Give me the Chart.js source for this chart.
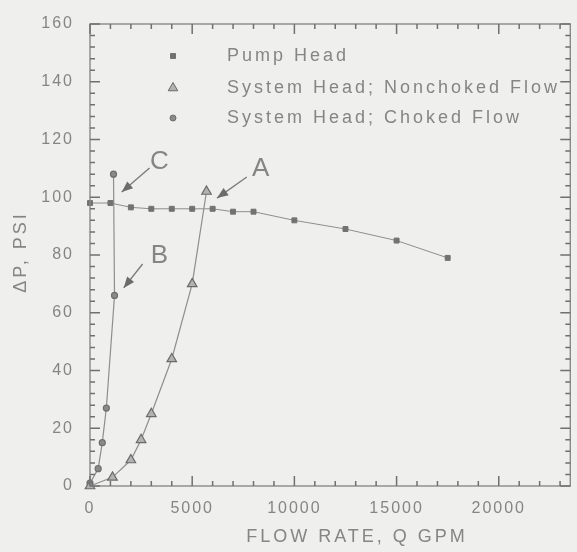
<!DOCTYPE html>
<html><head><meta charset="utf-8">
<script src="https://cdn.jsdelivr.net/npm/chart.js@4.4.0/dist/chart.umd.min.js"></script>
<style>html,body{margin:0;padding:0;background:#efefed;}#wrap{width:577px;height:552px;position:relative;}</style>
</head><body><div id="wrap"><canvas id="c"></canvas></div>
<script>
// ---- data ----
const pumpFlow = [0,1000,2000,3000,4000,5000,6000,7000,8000,10000,12500,15000,17500];
const pumpHead = [98,98,96.5,96,96,96,96,95,95,92,89,85,79];
const nonchokedFlow = [0,1100,2000,2500,3000,4000,5000,5700];
const nonchokedHead = [0,3,9,16,25,44,70,102];
const chokedFlow = [0,400,600,800,1200,1150];
const chokedHead = [1,6,15,27,66,108];
const xTicks = [0,5000,10000,15000,20000];
const yTicks = [0,20,40,60,80,100,120,140,160];
const seriesNames = ['Pump Head','System Head; Nonchoked Flow','System Head; Choked Flow'];
const xTitle = 'FLOW RATE, Q GPM';
const yTitle = '\u0394P, PSI';
// annotations (data units)
const noteText = ['A','B','C'];
const noteX = [8350,3400,3400];
const noteY = [109.8,79.7,112.2];
const arrowFromX = [7671,2573,2913];
const arrowFromY = [107,76.9,110.1];
const arrowToX = [6215,1650,1554];
const arrowToY = [99.7,68.6,101.8];

const TXT = '#858585', LINE = '#8e8e8e', MARK = '#727272';
const FONT = '"Liberation Sans", Arial, sans-serif';
const toPts = (xs, ys) => xs.map((x,i)=>({x, y: ys[i]}));

function drawFrame(chart){
  const ctx = chart.ctx, a = chart.chartArea, xs = chart.scales.x, ys = chart.scales.y;
  ctx.save();
  ctx.setLineDash([]);
  ctx.strokeStyle = '#8a8a8a'; ctx.lineWidth = 1.4;
  ctx.strokeRect(a.left, a.top, a.right-a.left, a.bottom-a.top);
  ctx.lineWidth = 1.5;
  ctx.strokeStyle = '#707070';
  for (let i = 0; i <= 23; i++) {
    const p = xs.getPixelForValue(i * 1000), L = (i % 5 === 0) ? 10 : 5;
    ctx.beginPath();
    ctx.moveTo(p, a.bottom); ctx.lineTo(p, a.bottom - L);
    ctx.moveTo(p, a.top); ctx.lineTo(p, a.top + L);
    ctx.stroke();
  }
  for (let i = 0; i <= 40; i++) {
    const p = ys.getPixelForValue(i * 4), L = (i % 5 === 0) ? 10 : 5;
    ctx.beginPath();
    ctx.moveTo(a.left, p); ctx.lineTo(a.left + L, p);
    ctx.moveTo(a.right, p); ctx.lineTo(a.right - L, p);
    ctx.stroke();
  }
  ctx.restore();
}

const stylePlugin = {
  id:'style',
  beforeLayout(chart){ chart.ctx.letterSpacing='2px'; },
  beforeDraw(chart){
    const ctx = chart.ctx;
    ctx.save();
    ctx.fillStyle='#efefed'; ctx.fillRect(0,0,chart.width,chart.height);
    ctx.restore();
    ctx.letterSpacing='2px';
  },
  afterDraw(chart){
    const ctx = chart.ctx, xs = chart.scales.x, ys = chart.scales.y;
    drawFrame(chart);
    ctx.save();
    ctx.fillStyle = TXT; ctx.strokeStyle = TXT;
    // axis titles
    ctx.letterSpacing = '3px';
    ctx.font = '18px ' + FONT;
    ctx.textAlign = 'center'; ctx.textBaseline = 'middle';
    ctx.fillText(xTitle, 357, 537);
    ctx.save(); ctx.translate(21, 252); ctx.rotate(-Math.PI/2);
    ctx.fillText(yTitle, 0, 0); ctx.restore();
    // legend
    ctx.textAlign = 'left';
    const rows = [56, 88, 118];
    seriesNames.forEach((n,i)=>{
      ctx.fillStyle = TXT;
      ctx.fillText(n, 227, rows[i]);
      const ds = chart.data.datasets[i];
      ctx.fillStyle = ds.pointBackgroundColor; ctx.strokeStyle = ds.pointBorderColor;
      ctx.lineWidth = 1;
      Chart.helpers.drawPoint(ctx, {pointStyle: ds.pointStyle, radius: ds.pointRadius, borderWidth: 1}, 173, rows[i]);
    });
    // annotations
    ctx.letterSpacing = '0px';
    ctx.font = '26px ' + FONT;
    ctx.textAlign = 'center';
    ctx.strokeStyle = '#7c7c7c'; ctx.lineWidth = 1.4;
    noteText.forEach((t,i)=>{
      ctx.fillStyle = TXT;
      ctx.fillText(t, xs.getPixelForValue(noteX[i]), ys.getPixelForValue(noteY[i]));
      const x1 = xs.getPixelForValue(arrowFromX[i]), y1 = ys.getPixelForValue(arrowFromY[i]);
      const x2 = xs.getPixelForValue(arrowToX[i]), y2 = ys.getPixelForValue(arrowToY[i]);
      ctx.beginPath(); ctx.moveTo(x1,y1); ctx.lineTo(x2,y2); ctx.stroke();
      const ang = Math.atan2(y2-y1, x2-x1), h = 12, w = 0.38;
      ctx.fillStyle = '#6c6c6c';
      ctx.beginPath();
      ctx.moveTo(x2,y2);
      ctx.lineTo(x2 - h*Math.cos(ang-w), y2 - h*Math.sin(ang-w));
      ctx.lineTo(x2 - h*Math.cos(ang+w), y2 - h*Math.sin(ang+w));
      ctx.closePath(); ctx.fill();
    });
    ctx.restore();
  }
};

new Chart(document.getElementById('c'), {
  type: 'scatter',
  data: { datasets: [
    { label: seriesNames[0], data: toPts(pumpFlow, pumpHead), showLine: true,
      borderColor: LINE, borderWidth: 1, pointStyle: 'rect', pointRadius: 3.5,
      pointBackgroundColor: MARK, pointBorderColor: MARK, clip: false },
    { label: seriesNames[1], data: toPts(nonchokedFlow, nonchokedHead), showLine: true,
      borderColor: LINE, borderWidth: 1.2, pointStyle: 'triangle', pointRadius: 5.5,
      pointBackgroundColor: '#b2b2b2', pointBorderColor: '#6a6a6a', pointBorderWidth: 1.2, clip: false },
    { label: seriesNames[2], data: toPts(chokedFlow, chokedHead), showLine: true,
      borderColor: LINE, borderWidth: 1.2, pointStyle: 'circle', pointRadius: 3,
      pointBackgroundColor: '#8a8a8a', pointBorderColor: '#6e6e6e', clip: false }
  ]},
  options: {
    responsive: true, maintainAspectRatio: false, animation: false,
    layout: { padding: { top: 24, right: 4, left: 0, bottom: 0 } },
    plugins: { legend: { display: false }, tooltip: { enabled: false } },
    scales: {
      x: { type: 'linear', min: 0, max: 23500,
        afterFit: s => { s.height = 66; },
        afterBuildTicks: s => { s.ticks = xTicks.map(v => ({ value: v })); },
        grid: { display: false }, border: { display: false },
        ticks: { font: { size: 16, family: FONT }, color: TXT, padding: 5, maxRotation: 0, autoSkip: false,
          callback: v => String(v) } },
      y: { type: 'linear', min: 0, max: 160,
        afterFit: s => { s.width = 90; },
        afterBuildTicks: s => { s.ticks = yTicks.map(v => ({ value: v })); },
        grid: { display: false }, border: { display: false },
        ticks: { font: { size: 16, family: FONT }, color: TXT, padding: 8, autoSkip: false,
          callback: v => String(v) } }
    }
  },
  plugins: [stylePlugin]
});
</script></body></html>
